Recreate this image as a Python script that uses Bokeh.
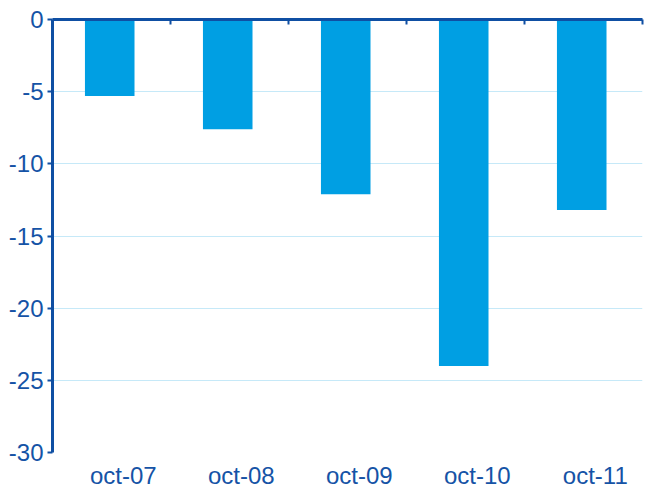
from bokeh.plotting import figure
from bokeh.models import Range1d, LinearAxis, FixedTicker, Grid
from bokeh.embed import file_html
from bokeh.resources import INLINE

categories = ["oct-07", "oct-08", "oct-09", "oct-10", "oct-11"]
values = [-5.3, -7.6, -12.1, -24.0, -13.2]
y_ticks = [0, -5, -10, -15, -20, -25, -30]
y_tick_labels = ["0", "-5", "-10", "-15", "-20", "-25", "-30"]

AXIS = "#0F4FA3"
TEXT = "#1553A6"
BAR = "#009FE3"
GRID = "#C6E9F8"
FONT = "Liberation Sans"

n = len(categories)
centers = [i + 0.5 for i in range(n)]
bar_x = [c - 0.015 for c in centers]
label_x = [c + 0.1 for c in centers]
boundaries = [i + 1 for i in range(n)]

p = figure(x_range=Range1d(0, n), y_range=Range1d(-30, 0),
           frame_width=590, frame_height=433, output_backend="svg",
           toolbar_location=None, x_axis_location=None, y_axis_location=None,
           min_border_left=52, min_border_top=19, min_border_right=6, min_border_bottom=30)
p.outline_line_color = None
p.background_fill_color = "white"
p.border_fill_color = "white"
p.xgrid.grid_line_color = None
p.ygrid.grid_line_color = None

p.vbar(x=bar_x, top=0, bottom=values, width=0.42, color=BAR, line_color=None)

# left axis
yax = LinearAxis(ticker=FixedTicker(ticks=y_ticks),
                 major_label_overrides={t: s for t, s in zip(y_ticks, y_tick_labels)})
yax.axis_line_color = AXIS
yax.axis_line_width = 3
yax.major_tick_line_color = AXIS
yax.major_tick_line_width = 2
yax.major_tick_out = 5
yax.major_tick_in = 0
yax.minor_tick_line_color = None
yax.major_label_text_font = FONT
yax.major_label_text_font_size = "24px"
yax.major_label_text_color = TEXT
yax.major_label_standoff = 4
p.add_layout(yax, "left")

# top axis line at zero with boundary ticks
tax = LinearAxis(ticker=FixedTicker(ticks=boundaries),
                 major_label_overrides={b: "" for b in boundaries})
tax.axis_line_color = AXIS
tax.axis_line_width = 3
tax.major_tick_line_color = AXIS
tax.major_tick_line_width = 2
tax.major_tick_in = 5
tax.major_tick_out = 0
tax.minor_tick_line_color = None
tax.major_label_text_font_size = "1px"
tax.major_label_standoff = 0
p.add_layout(tax, "above")

# bottom category labels
bax = LinearAxis(ticker=FixedTicker(ticks=label_x),
                 major_label_overrides={c: lab for c, lab in zip(label_x, categories)})
bax.axis_line_color = None
bax.major_tick_line_color = None
bax.minor_tick_line_color = None
bax.major_label_text_font = FONT
bax.major_label_text_font_size = "24px"
bax.major_label_text_color = TEXT
bax.major_label_standoff = 3
p.add_layout(bax, "below")

g = Grid(dimension=1, ticker=FixedTicker(ticks=y_ticks[1:]), grid_line_color=GRID, grid_line_width=1)
p.add_layout(g, "center")

open("out.html", "w").write(file_html(p, INLINE))
